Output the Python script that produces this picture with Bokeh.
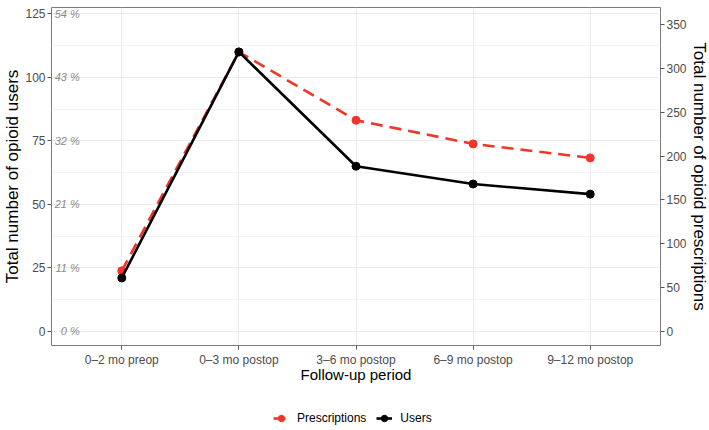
from bokeh.plotting import figure
from bokeh.layouts import column
from bokeh.models import (Range1d, LinearAxis, SingleIntervalTicker, Legend,
                          LegendItem, FactorRange)
from bokeh.core.properties import value
from bokeh.embed import file_html
from bokeh.resources import INLINE

# ---- data ----
periods = ["0–2 mo preop", "0–3 mo postop", "3–6 mo postop", "6–9 mo postop", "9–12 mo postop"]
users = [21, 110, 65, 58, 54]
prescriptions = [69, 319, 241, 214, 198]
left_ticks = [0, 25, 50, 75, 100, 125]
pct_labels = ["0 %", "11 %", "21 %", "32 %", "43 %", "54 %"]

FONT = "Liberation Sans"
RED = "#F0362A"

p = figure(frame_width=609, frame_height=338,
           x_range=FactorRange(*periods, range_padding=0.1, range_padding_units="absolute"),
           y_range=Range1d(-5.6, 127.5),
           output_backend="svg", toolbar_location=None,
           min_border_left=51, min_border_right=49, min_border_top=7, min_border_bottom=50)
p.extra_y_ranges = {"rx": Range1d(-5.6 * 2.9, 127.5 * 2.9)}

p.outline_line_color = "#7a7a7a"
p.outline_line_width = 1
p.background_fill_color = "white"
p.border_fill_color = "white"

# grids
p.xgrid.grid_line_color = "#EBEBEB"
p.xgrid.grid_line_width = 1
p.ygrid.grid_line_color = "#EBEBEB"
p.ygrid.grid_line_width = 1
p.ygrid.minor_grid_line_color = "#F0F0F0"
p.ygrid.minor_grid_line_width = 0.8

# left axis
p.yaxis.ticker = SingleIntervalTicker(interval=25, num_minor_ticks=2)
p.yaxis.axis_label = "Total number of opioid users"

# right axis
ra = LinearAxis(y_range_name="rx", ticker=SingleIntervalTicker(interval=50),
                axis_label="Total number of opioid prescriptions")
p.add_layout(ra, "right")

p.xaxis.axis_label = "Follow-up period"

for ax in [p.xaxis[0], p.yaxis[0], ra]:
    ax.axis_line_color = None
    ax.major_tick_line_color = "#555555"
    ax.major_tick_out = 4
    ax.major_tick_in = 0
    ax.minor_tick_line_color = None
    ax.major_label_text_color = "#4D4D4D"
    ax.major_label_text_font = FONT
    ax.major_label_text_font_size = "12px"
    ax.major_label_standoff = 2
    ax.axis_label_text_font = FONT
    ax.axis_label_text_font_style = "normal"
    ax.axis_label_text_font_size = "17px"
    ax.axis_label_text_color = "black"
    ax.axis_label_standoff = 0

p.xaxis.major_label_standoff = 3
p.xaxis.axis_label_text_font_size = "15px"
p.xaxis.axis_label_standoff = -4

# percent labels inside panel
p.text(x=[periods[0]] * len(left_ticks), y=left_ticks, text=pct_labels,
       x_offset=-42, text_align="right", text_baseline="middle",
       text_font=value(FONT), text_font_style="italic", text_font_size="11px",
       text_color="#8a8a8a")

# series
p.line(periods, prescriptions, y_range_name="rx", line_color=RED,
       line_width=2.6, line_dash="12 7")
p.scatter(periods, prescriptions, y_range_name="rx", size=8,
          fill_color=RED, line_color=RED)
p.line(periods, users, line_color="black", line_width=2.6)
p.scatter(periods, users, size=8, fill_color="black", line_color="black")

# ---- legend strip (same series, drawn outside its visible range) ----
lf = figure(width=709, height=35, output_backend="svg", toolbar_location=None,
            x_range=FactorRange(*periods), y_range=Range1d(-2000, -1999),
            x_axis_location=None, y_axis_location=None, min_border=0)
lf.outline_line_color = None
lf.xgrid.grid_line_color = None
lf.ygrid.grid_line_color = None
lf.background_fill_color = "white"
lf.border_fill_color = "white"

l_pl = lf.line(periods, prescriptions, line_color=RED, line_width=2.6, line_dash="12 7")
l_ps = lf.scatter(periods, prescriptions, size=8, fill_color=RED, line_color=RED)
l_ul = lf.line(periods, users, line_color="black", line_width=2.6)
l_us = lf.scatter(periods, users, size=8, fill_color="black", line_color="black")

legend = Legend(items=[LegendItem(label="Prescriptions", renderers=[l_pl, l_ps]),
                       LegendItem(label="Users", renderers=[l_ul, l_us])],
                orientation="horizontal", location=(222, 4),
                label_text_font=FONT, label_text_font_size="12px",
                label_text_color="black", label_height=16,
                glyph_width=16, glyph_height=16, spacing=10, label_standoff=8,
                border_line_color=None, background_fill_alpha=0,
                padding=2, margin=0)
lf.add_layout(legend)

layout = column(p, lf, spacing=0)
open("out.html", "w").write(file_html(layout, INLINE))
